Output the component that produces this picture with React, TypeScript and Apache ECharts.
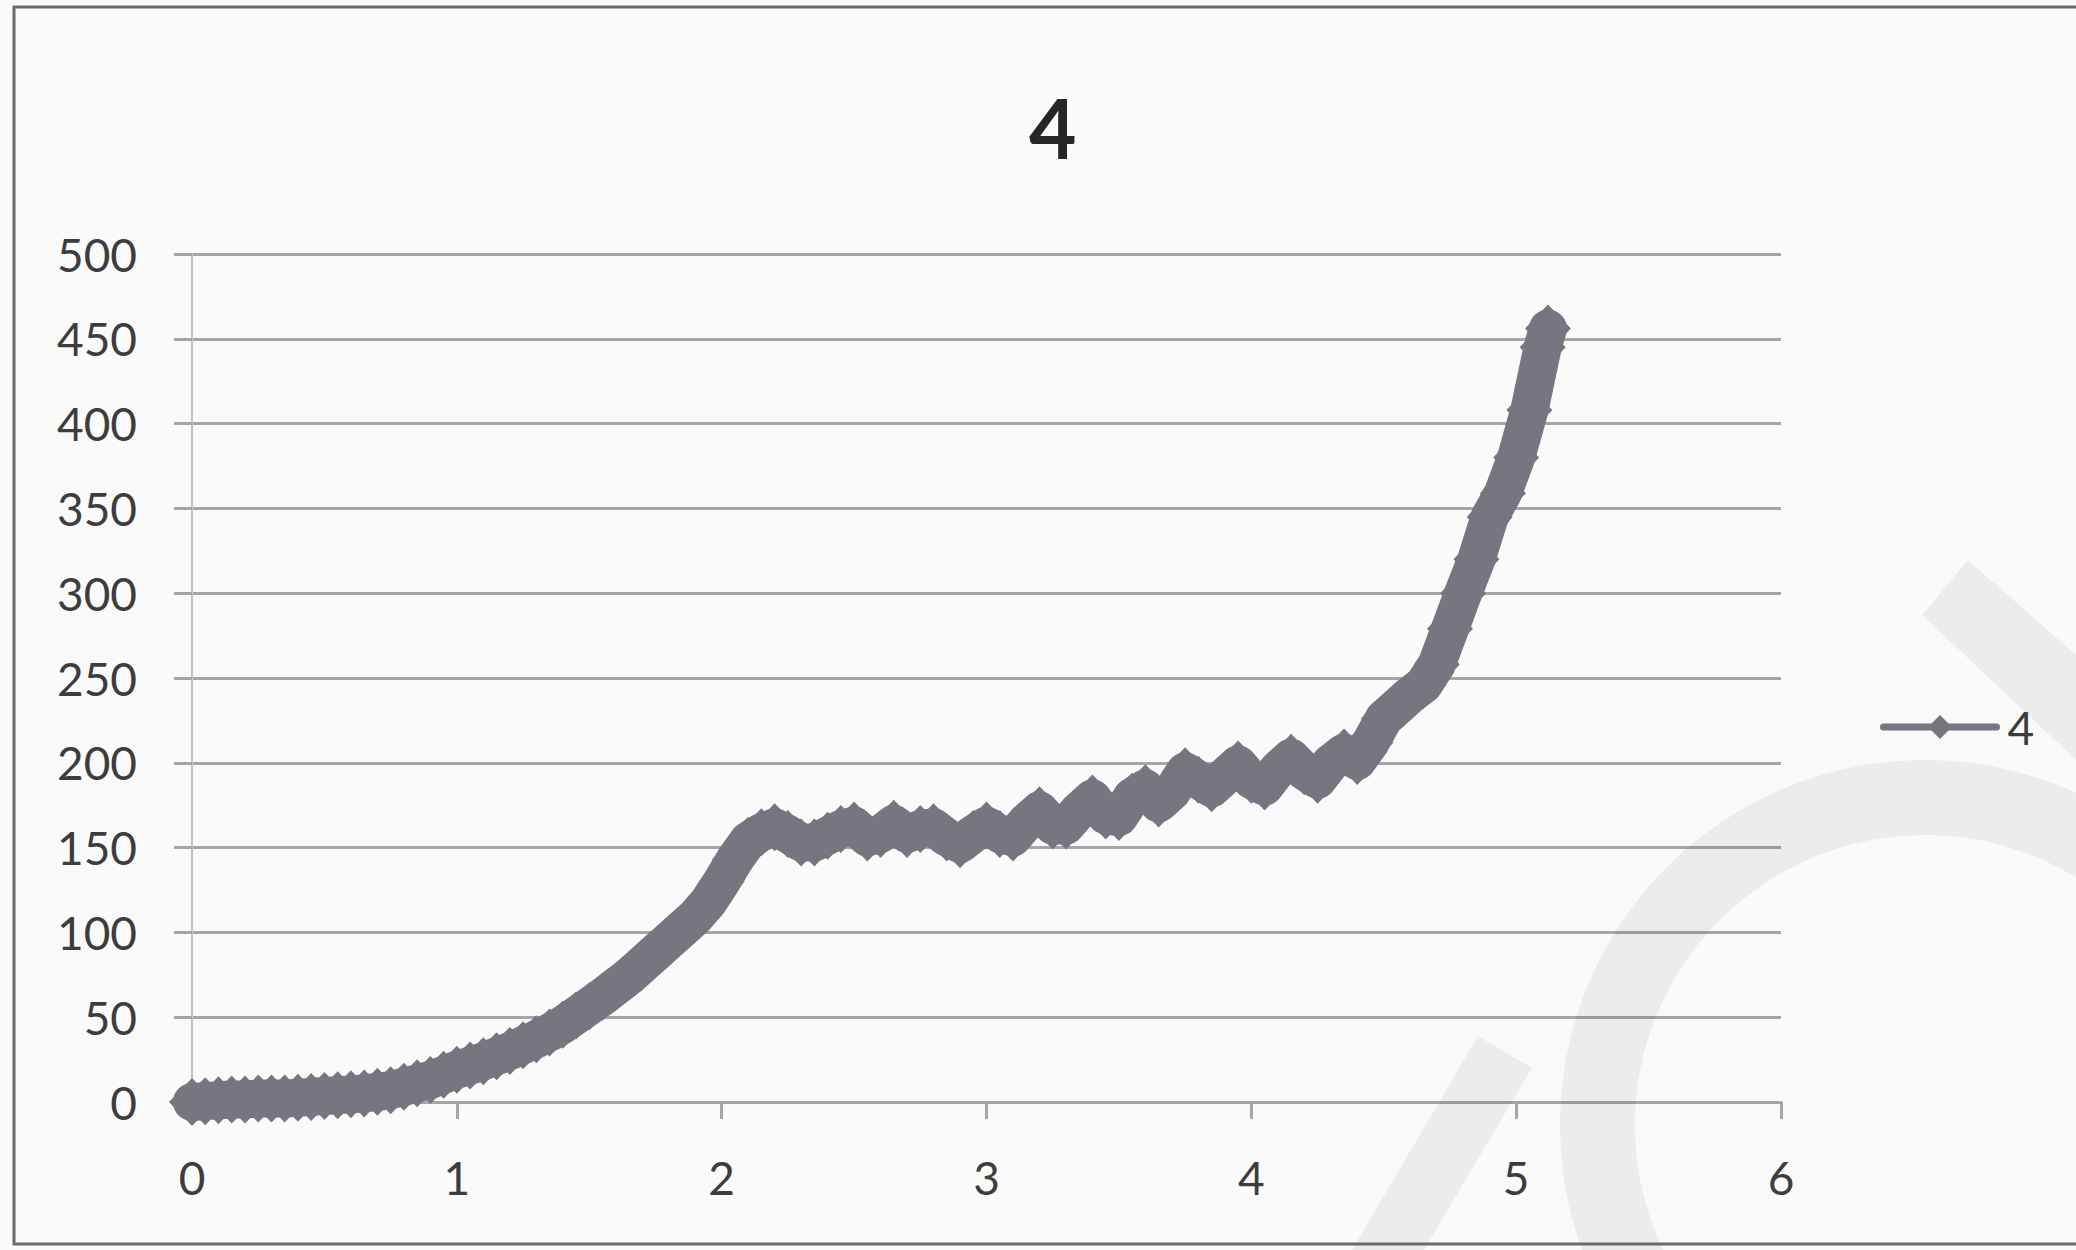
import React, { useEffect, useRef } from "react";
import * as echarts from "echarts";

// Measured curve: x positions and matching values
const xValues = [
  0, 0.05, 0.1, 0.15, 0.2, 0.25, 0.3, 0.35, 0.4, 0.45,
  0.5, 0.55, 0.6, 0.65, 0.7, 0.75, 0.8, 0.85, 0.9, 0.95,
  1.0, 1.05, 1.1, 1.15, 1.2, 1.25, 1.3, 1.35, 1.4, 1.45,
  1.5, 1.55, 1.6, 1.65, 1.7, 1.75, 1.8, 1.85, 1.9, 1.95,
  2.0, 2.05, 2.1, 2.15, 2.2, 2.25, 2.3, 2.35, 2.4, 2.45,
  2.5, 2.55, 2.6, 2.65, 2.7, 2.75, 2.8, 2.85, 2.9, 2.95,
  3.0, 3.05, 3.1, 3.15, 3.2, 3.25, 3.3, 3.35, 3.4, 3.45,
  3.5, 3.55, 3.6, 3.65, 3.7, 3.75, 3.8, 3.85, 3.9, 3.95,
  4.0, 4.05, 4.1, 4.15, 4.2, 4.25, 4.3, 4.35, 4.4, 4.45,
  4.5, 4.55, 4.6, 4.65, 4.7, 4.75, 4.8, 4.85, 4.9, 4.95,
  5.0, 5.05, 5.1, 5.12,
];

const yValues = [
  0, 0.5, 1, 1.5, 1.5, 2, 2, 2, 2.5, 3,
  3.5, 4, 4.5, 5, 6, 7, 9, 11, 13, 16,
  19, 21.5, 24, 27, 30, 33.5, 37, 41, 45.5, 51,
  56.5, 62, 68, 74, 81, 88, 95, 102, 109, 118,
  130, 143, 154, 159, 162, 158, 153, 153, 157, 161,
  163, 156, 158, 164, 158, 161, 162, 156, 152, 158,
  163, 158, 156, 165, 172, 163, 163, 172, 179, 169,
  168, 180, 185, 176, 183, 195, 190, 185, 192, 199,
  190, 186, 196, 203, 195, 190, 200, 206, 201, 212,
  226, 233, 240, 246, 258, 279, 300, 320, 345, 359,
  380, 408, 445, 456,
];

const seriesName = "4";
const titleText = "4";
const xTicks = { min: 0, max: 6, interval: 1 };
const yTicks = { min: 0, max: 500, interval: 50 };

const LINE_COLOR = "#77757f";
const GRID_COLOR = "#a6a6a6";
const LABEL_COLOR = "#3d3d3d";
const STAMP_FILL = "rgba(0,0,0,0.055)";
const FONT = "Lato, 'Open Sans', sans-serif";

export default function App() {
  const ref = useRef<HTMLDivElement>(null);

  useEffect(() => {
    document.body.style.margin = "0";
    if (!ref.current) return;
    const chart = echarts.init(ref.current, null, { renderer: "svg" });

    const points = xValues.map((x, i) => [x, yValues[i]]);

    chart.setOption({
      animation: false,
      backgroundColor: "#fafafa",
      title: {
        text: titleText,
        left: 1029,
        top: 86,
        padding: 0,
        textStyle: {
          fontFamily: FONT,
          fontWeight: "bold",
          fontSize: 82,
          color: "#262626",
        },
      },
      legend: {
        left: 1880,
        top: 704,
        orient: "vertical",
        padding: 0,
        itemWidth: 113,
        itemHeight: 30,
        lineStyle: { width: 7 },
        textStyle: {
          fontFamily: FONT,
          fontSize: 46,
          color: LABEL_COLOR,
          padding: [0, 0, 0, 6],
        },
        data: [seriesName],
      },
      grid: {
        left: 192,
        right: 295,
        top: 254,
        bottom: 148,
        containLabel: false,
      },
      xAxis: {
        type: "value",
        min: xTicks.min,
        max: xTicks.max,
        interval: xTicks.interval,
        axisLine: { show: true, onZero: false, lineStyle: { color: GRID_COLOR, width: 3 } },
        axisTick: { show: true, length: 17, lineStyle: { color: GRID_COLOR, width: 3 } },
        axisLabel: {
          margin: 52,
          fontFamily: FONT,
          fontSize: 46,
          color: LABEL_COLOR,
        },
        splitLine: { show: false },
      },
      yAxis: {
        type: "value",
        min: yTicks.min,
        max: yTicks.max,
        interval: yTicks.interval,
        axisLine: { show: true, lineStyle: { color: "#c2c2c2", width: 2 } },
        axisTick: { show: true, length: 18, lineStyle: { color: GRID_COLOR, width: 3 } },
        axisLabel: {
          margin: 55,
          fontFamily: FONT,
          fontSize: 46,
          color: LABEL_COLOR,
        },
        splitLine: { show: true, lineStyle: { color: GRID_COLOR, width: 3 } },
      },
      graphic: [
        // outer frame of the chart area
        {
          type: "rect",
          shape: { x: 14, y: 7, width: 2100, height: 1237 },
          style: { fill: "none", stroke: "#6b6b6b", lineWidth: 3 },
          z: 10,
        },
        // faint stamp in the lower right corner
        {
          type: "ring",
          shape: { cx: 1925, cy: 1125, r: 365, r0: 290 },
          style: { fill: STAMP_FILL },
          z: 1,
        },
        {
          type: "polygon",
          shape: { points: [[1968, 560], [2076, 655], [2076, 760], [1922, 615]] },
          style: { fill: STAMP_FILL },
          z: 1,
        },
        {
          type: "polygon",
          shape: { points: [[1478, 1036], [1532, 1068], [1424, 1250], [1352, 1250]] },
          style: { fill: STAMP_FILL },
          z: 1,
        },
      ],
      series: [
        {
          name: seriesName,
          type: "line",
          data: points,
          symbol: "diamond",
          symbolSize: [46, 48],
          showSymbol: true,
          showAllSymbol: true,
          lineStyle: { color: LINE_COLOR, width: 38, join: "round", cap: "round" },
          itemStyle: { color: LINE_COLOR, borderWidth: 0 },
          z: 5,
        },
      ],
    });

    return () => chart.dispose();
  }, []);

  return (
    <div
      ref={ref}
      style={{ position: "absolute", left: 0, top: 0, width: 2076, height: 1250 }}
    />
  );
}
